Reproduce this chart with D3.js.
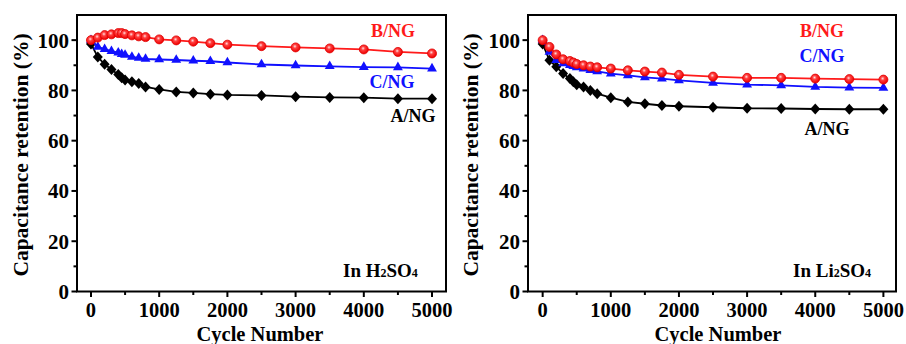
<!DOCTYPE html>
<html><head><meta charset="utf-8">
<script src="https://cdn.jsdelivr.net/npm/d3@7"></script>
<style>
html,body{margin:0;padding:0;background:#fff;}
svg{display:block;}
text{font-family:"Liberation Serif","Times New Roman",serif;font-weight:bold;}
</style></head>
<body>
<svg id="chart" width="906" height="344"></svg>
<script>
// ---- data ----
const cycles = [0,100,200,300,400,450,500,600,700,800,1000,1250,1500,1750,2000,2500,3000,3500,4000,4500,5000];

const h2so4_B = [100,101,102,102.3,102.8,102.8,102.4,101.9,101.5,101.2,100.3,99.9,99.4,98.8,98.2,97.6,97.1,96.7,96.3,95.3,94.7];
const h2so4_C = [100,97.3,96.4,95.6,95.0,94.4,94.1,93.3,92.9,92.5,92.3,92.1,91.8,91.6,91.1,90.3,89.9,89.6,89.3,89.2,88.7];
const h2so4_A = [98.5,93.3,90.4,88.3,86.3,85.0,84.1,83.4,82.7,81.4,80.4,79.4,79.0,78.5,78.2,78.0,77.5,77.2,77.1,76.7,76.7];

const li2so4_B = [100,97.3,94.3,92.4,91.7,91.1,90.5,90.0,89.5,89.2,88.7,88.0,87.5,87.1,86.2,85.5,85.0,85.0,84.7,84.5,84.3];
const li2so4_C = [100,95.3,92.0,90.7,90.0,89.6,89.2,88.7,88.1,87.6,86.7,86.0,85.2,84.7,84.0,83.0,82.3,82.0,81.4,81.1,81.0];
const li2so4_A = [98.5,92.0,89.4,86.7,84.7,83.4,82.3,81.4,80.0,78.7,77.1,75.4,74.7,74.0,73.7,73.3,72.9,72.8,72.6,72.5,72.5];

const xTicks = [0,1000,2000,3000,4000,5000];
const xMinor = [500,1500,2500,3500,4500];
const yTicks = [0,20,40,60,80,100];
const yMinor = [10,30,50,70,90];
const seriesNames = ["B/NG","C/NG","A/NG"];
const xTitle = "Cycle Number";
const yTitle = "Capacitance retention (%)";

// ---- drawing ----
const svg = d3.select("#chart");
const defs = svg.append("defs");
const grad = defs.append("radialGradient").attr("id","redball").attr("cx","42%").attr("cy","38%").attr("r","60%");
grad.append("stop").attr("offset","0%").attr("stop-color","#ffe0e0");
grad.append("stop").attr("offset","35%").attr("stop-color","#ff4040");
grad.append("stop").attr("offset","100%").attr("stop-color","#ee0000");

const colors = {"B/NG":"#ff1a1a","C/NG":"#1010ff","A/NG":"#000000"};

const panels = [
  {frame:[77,446], xdom:[-205,5205], series:[h2so4_B,h2so4_C,h2so4_A],
   labelTxt:["In H","2","SO","4"], labelX:343,
   names:[[393,37],[392,88],[413,122]], ytitleX:28, xtitleX:260},
  {frame:[528,896], xdom:[-215,5185], series:[li2so4_B,li2so4_C,li2so4_A],
   labelTxt:["In Li","2","SO","4"], labelX:793,
   names:[[822,37],[822,62],[827,135]], ytitleX:478, xtitleX:718}
];

const yTop = 15, yBot = 291.5;

panels.forEach(p => {
  const x = d3.scaleLinear().domain(p.xdom).range(p.frame);
  const y = d3.scaleLinear().domain([0,110]).range([yBot, yTop]);
  const g = svg.append("g");

  // ticks (outward)
  g.selectAll(".xt").data(xTicks).join("line")
    .attr("x1",d=>x(d)).attr("x2",d=>x(d)).attr("y1",yBot).attr("y2",yBot+5.5)
    .attr("stroke","#000").attr("stroke-width",2);
  g.selectAll(".xm").data(xMinor).join("line")
    .attr("x1",d=>x(d)).attr("x2",d=>x(d)).attr("y1",yBot).attr("y2",yBot+3.5)
    .attr("stroke","#000").attr("stroke-width",2);
  g.selectAll(".yt").data(yTicks).join("line")
    .attr("x1",p.frame[0]).attr("x2",p.frame[0]-5.5).attr("y1",d=>y(d)).attr("y2",d=>y(d))
    .attr("stroke","#000").attr("stroke-width",2);
  g.selectAll(".ym").data(yMinor).join("line")
    .attr("x1",p.frame[0]).attr("x2",p.frame[0]-3.5).attr("y1",d=>y(d)).attr("y2",d=>y(d))
    .attr("stroke","#000").attr("stroke-width",2);

  g.selectAll(".xl").data(xTicks).join("text")
    .attr("x",d=>x(d)).attr("y",317).attr("text-anchor","middle")
    .attr("font-size",20.5).text(d=>d);
  g.selectAll(".yl").data(yTicks).join("text")
    .attr("x",p.frame[0]-8).attr("y",d=>y(d)+7.5).attr("text-anchor","end")
    .attr("font-size",21).text(d=>d);

  // frame
  g.append("rect").attr("x",p.frame[0]).attr("y",yTop)
    .attr("width",p.frame[1]-p.frame[0]).attr("height",yBot-yTop)
    .attr("fill","none").attr("stroke","#000").attr("stroke-width",2);

  // axis titles
  g.append("text").attr("x",p.xtitleX).attr("y",341).attr("text-anchor","middle")
    .attr("font-size",20.5).text(xTitle);
  g.append("text").attr("transform",`translate(${p.ytitleX},155) rotate(-90)`)
    .attr("text-anchor","middle").attr("font-size",21.5).text(yTitle);

  // series
  const line = d3.line().x((d,i)=>x(cycles[i])).y(d=>y(d));
  const order = [2,1,0];
  order.forEach(si => {
    const vals = p.series[si];
    const name = seriesNames[si];
    const col = colors[name];
    g.append("path").datum(vals).attr("d",line).attr("fill","none")
      .attr("stroke",col).attr("stroke-width",1.8);
    const pts = g.selectAll(null).data(vals).join("g")
      .attr("transform",(d,i)=>`translate(${x(cycles[i])},${y(d)})`);
    if (name==="B/NG") {
      pts.append("circle").attr("r",4.5).attr("fill","url(#redball)")
        .attr("stroke","#e00000").attr("stroke-width",0.8);
    } else if (name==="C/NG") {
      pts.append("path").attr("d",d3.symbol(d3.symbolTriangle,42)()).attr("fill",col);
    } else {
      pts.append("path").attr("d","M0,-5.5L5,0L0,5.5L-5,0Z").attr("fill",col);
    }
  });

  // series labels
  seriesNames.forEach((n,i)=>{
    g.append("text").attr("x",p.names[i][0]).attr("y",p.names[i][1])
      .attr("text-anchor","middle").attr("font-size",18).attr("fill",colors[n]).text(n);
  });

  // electrolyte label
  const t = g.append("text").attr("x",p.labelX).attr("y",277).attr("font-size",19);
  t.append("tspan").text(p.labelTxt[0]);
  t.append("tspan").attr("font-size",12).text(p.labelTxt[1]);
  t.append("tspan").text(p.labelTxt[2]);
  t.append("tspan").attr("font-size",12).text(p.labelTxt[3]);
});
</script>
</body></html>
